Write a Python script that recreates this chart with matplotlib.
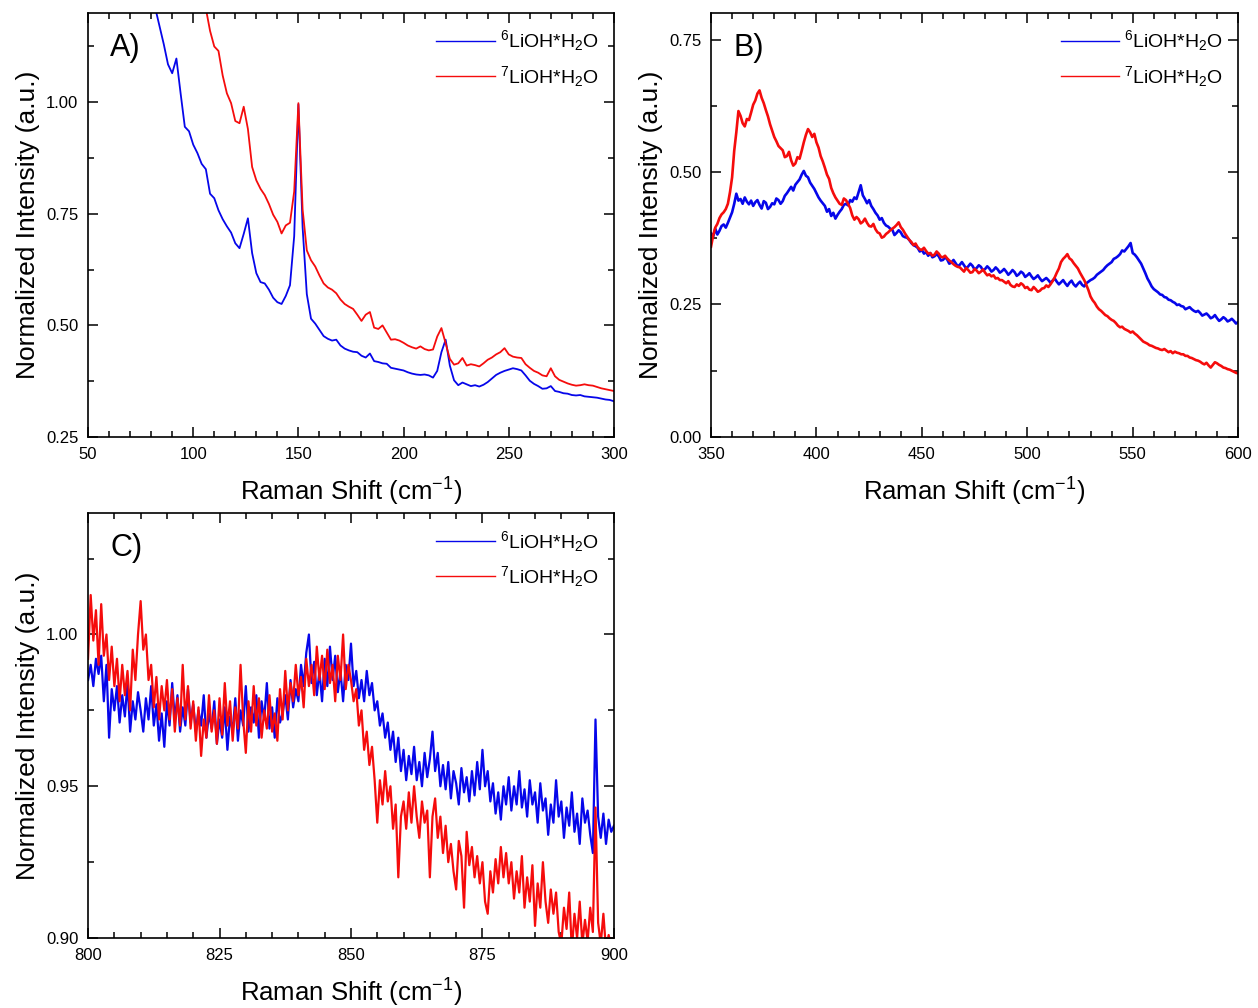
import matplotlib

matplotlib.use("Agg")
import matplotlib.pyplot as plt
import numpy as np
from matplotlib.ticker import MultipleLocator

plt.rcParams["font.family"] = ["Liberation Sans", "DejaVu Sans"]
plt.rcParams["mathtext.fontset"] = "custom"
plt.rcParams["mathtext.rm"] = "Liberation Sans"
plt.rcParams["mathtext.it"] = "Liberation Sans:italic"

BLUE = "#0606ea"
RED = "#f50c0c"
LABEL_6 = r"$^{6}$LiOH*H$_{2}$O"
LABEL_7 = r"$^{7}$LiOH*H$_{2}$O"

# panel A, 80..300 step 2 (blue), 100..300 step 2 (red)
a_x_blue = np.arange(80, 301, 2)
a_blue = [
    1.26, 1.21, 1.17, 1.13, 1.085, 1.065, 1.098, 1.02, 0.945, 0.935,
    0.905, 0.886, 0.862, 0.85, 0.795, 0.785, 0.758, 0.738, 0.722, 0.708,
    0.684, 0.673, 0.705, 0.740, 0.662, 0.617, 0.597, 0.594, 0.580, 0.562,
    0.552, 0.548, 0.566, 0.590, 0.700, 0.995, 0.720, 0.570, 0.515, 0.504,
    0.490, 0.476, 0.470, 0.466, 0.468, 0.455, 0.448, 0.444, 0.441, 0.440,
    0.432, 0.428, 0.437, 0.420, 0.418, 0.415, 0.414, 0.405, 0.403, 0.401,
    0.399, 0.395, 0.392, 0.390, 0.389, 0.390, 0.388, 0.383, 0.398, 0.440,
    0.468, 0.410, 0.377, 0.366, 0.372, 0.368, 0.364, 0.366, 0.363, 0.367,
    0.373, 0.381, 0.389, 0.394, 0.398, 0.401, 0.404, 0.402, 0.399, 0.388,
    0.376, 0.369, 0.364, 0.358, 0.359, 0.364, 0.353, 0.351, 0.348, 0.347,
    0.344, 0.343, 0.344, 0.341, 0.340, 0.339, 0.338, 0.336, 0.334, 0.333,
    0.330,
]
a_x_red = np.arange(100, 301, 2)
a_red = [
    1.32, 1.29, 1.25, 1.21, 1.16, 1.125, 1.115, 1.06, 1.02, 0.998,
    0.958, 0.953, 0.990, 0.940, 0.855, 0.825, 0.806, 0.792, 0.772, 0.748,
    0.732, 0.706, 0.724, 0.730, 0.800, 0.998, 0.760, 0.668, 0.646, 0.632,
    0.612, 0.594, 0.585, 0.580, 0.572, 0.558, 0.548, 0.542, 0.537, 0.524,
    0.510, 0.524, 0.530, 0.495, 0.492, 0.500, 0.484, 0.468, 0.469, 0.466,
    0.461, 0.455, 0.451, 0.448, 0.453, 0.447, 0.444, 0.446, 0.475, 0.494,
    0.460, 0.425, 0.412, 0.415, 0.427, 0.410, 0.413, 0.411, 0.408, 0.415,
    0.423, 0.428, 0.435, 0.440, 0.449, 0.435, 0.430, 0.428, 0.427, 0.413,
    0.405, 0.398, 0.394, 0.388, 0.386, 0.404, 0.386, 0.378, 0.374, 0.370,
    0.367, 0.365, 0.366, 0.368, 0.366, 0.365, 0.362, 0.359, 0.357, 0.355,
    0.353,
]

# panel B, 350..600 step 1
b_x = np.arange(350, 601, 1)
b_blue = [
    .384, .378, .393, .382, .389, .398, .401, .395, .404, .414,
    .424, .440, .459, .446, .449, .440, .452, .444, .439, .446,
    .436, .443, .447, .438, .431, .445, .442, .430, .434, .441,
    .439, .450, .447, .440, .445, .455, .460, .466, .472, .465,
    .476, .481, .486, .495, .502, .493, .490, .480, .474, .468,
    .460, .452, .446, .441, .436, .425, .430, .417, .423, .412,
    .419, .425, .430, .438, .440, .437, .447, .444, .452, .449,
    .462, .475, .456, .449, .441, .447, .436, .430, .423, .418,
    .410, .413, .404, .399, .397, .393, .391, .381, .385, .390,
    .386, .379, .377, .376, .372, .366, .362, .360, .357, .350,
    .353, .346, .349, .342, .347, .339, .341, .345, .341, .333,
    .334, .339, .335, .327, .329, .334, .328, .322, .325, .330,
    .324, .318, .322, .327, .323, .316, .319, .324, .321, .314,
    .317, .322, .318, .312, .315, .320, .316, .310, .313, .317,
    .312, .306, .310, .315, .311, .304, .307, .312, .309, .302,
    .305, .309, .303, .298, .301, .305, .299, .294, .297, .300,
    .296, .291, .295, .299, .293, .288, .292, .296, .290, .285,
    .291, .295, .288, .284, .289, .293, .287, .284, .290, .293,
    .296, .298, .301, .306, .309, .312, .315, .320, .324, .327,
    .330, .336, .338, .341, .345, .352, .350, .355, .360, .366,
    .347, .344, .339, .333, .327, .318, .309, .299, .292, .284,
    .279, .276, .273, .269, .268, .264, .263, .259, .258, .255,
    .253, .249, .250, .247, .246, .241, .243, .245, .241, .238,
    .236, .238, .234, .229, .231, .233, .229, .224, .226, .230,
    .224, .219, .222, .226, .223, .218, .220, .223, .219, .214,
    .217,
]
b_red = [
    .359, .380, .395, .402, .413, .420, .424, .430, .440, .462,
    .490, .540, .575, .615, .606, .592, .586, .600, .598, .612,
    .627, .635, .648, .654, .640, .630, .617, .605, .590, .578,
    .566, .558, .549, .545, .541, .528, .530, .538, .522, .512,
    .516, .528, .525, .540, .556, .570, .581, .575, .566, .572,
    .556, .546, .530, .520, .508, .495, .487, .470, .460, .452,
    .446, .440, .438, .450, .447, .440, .432, .418, .410, .415,
    .411, .403, .406, .412, .404, .398, .397, .402, .392, .386,
    .384, .376, .378, .383, .386, .390, .393, .396, .400, .405,
    .396, .391, .384, .378, .372, .368, .362, .365, .358, .354,
    .353, .357, .351, .346, .347, .342, .344, .350, .346, .340,
    .339, .342, .337, .333, .330, .326, .323, .321, .320, .316,
    .312, .319, .315, .310, .311, .317, .314, .309, .312, .316,
    .310, .305, .307, .303, .305, .299, .300, .296, .296, .293,
    .290, .294, .287, .284, .283, .288, .285, .290, .287, .281,
    .283, .278, .277, .283, .279, .274, .276, .280, .281, .286,
    .283, .288, .294, .301, .310, .318, .330, .336, .340, .345,
    .337, .334, .328, .323, .318, .310, .303, .296, .287, .277,
    .265, .258, .253, .246, .241, .238, .234, .230, .228, .224,
    .221, .219, .215, .210, .207, .208, .204, .202, .200, .197,
    .199, .195, .192, .188, .184, .180, .178, .176, .173, .172,
    .170, .168, .167, .165, .164, .166, .163, .160, .162, .158,
    .161, .159, .158, .156, .156, .153, .153, .150, .149, .147,
    .145, .144, .142, .139, .137, .140, .135, .131, .136, .141,
    .139, .136, .134, .131, .130, .128, .127, .125, .123, .121,
    .120,
]

# panel C, 800..900 step 0.5
c_x = np.arange(800, 900.01, 0.5)
c_blue = [
    0.985, 0.990, 0.983, 0.992, 0.987, 0.993, 0.978, 0.990, 0.966, 0.982,
    0.975, 0.983, 0.971, 0.980, 0.973, 0.984, 0.968, 0.978, 0.972, 0.981,
    0.975, 0.968, 0.979, 0.972, 0.983, 0.970, 0.977, 0.965, 0.974, 0.963,
    0.978, 0.970, 0.984, 0.972, 0.980, 0.968, 0.976, 0.970, 0.982, 0.971,
    0.977, 0.968, 0.975, 0.970, 0.980, 0.966, 0.974, 0.969, 0.978, 0.964,
    0.972, 0.966, 0.976, 0.962, 0.973, 0.968, 0.979, 0.965, 0.975, 0.970,
    0.983, 0.968, 0.976, 0.971, 0.980, 0.966, 0.978, 0.972, 0.984, 0.969,
    0.976, 0.966, 0.979, 0.971, 0.974, 0.980, 0.972, 0.985, 0.976, 0.982,
    0.978, 0.990, 0.983, 0.994, 1.000, 0.984, 0.991, 0.980, 0.988, 0.978,
    0.992, 0.983, 0.996, 0.985, 0.993, 0.981, 0.988, 0.978, 0.990, 0.985,
    0.997, 0.983, 0.988, 0.979, 0.985, 0.978, 0.988, 0.980, 0.984, 0.975,
    0.978, 0.970, 0.974, 0.966, 0.971, 0.962, 0.968, 0.958, 0.966, 0.955,
    0.962, 0.952, 0.960, 0.954, 0.963, 0.952, 0.958, 0.950, 0.961, 0.953,
    0.959, 0.968, 0.955, 0.961, 0.950, 0.957, 0.949, 0.958, 0.946, 0.955,
    0.951, 0.944, 0.956, 0.948, 0.953, 0.945, 0.955, 0.947, 0.958, 0.949,
    0.962, 0.950, 0.955, 0.945, 0.951, 0.941, 0.948, 0.939, 0.950, 0.944,
    0.953, 0.942, 0.950, 0.944, 0.955, 0.943, 0.949, 0.940, 0.952, 0.944,
    0.948, 0.938, 0.951, 0.942, 0.946, 0.934, 0.944, 0.938, 0.952, 0.940,
    0.945, 0.933, 0.943, 0.937, 0.948, 0.935, 0.941, 0.931, 0.946, 0.938,
    0.942, 0.934, 0.928, 0.972, 0.940, 0.933, 0.941, 0.931, 0.939, 0.935,
    0.937,
]
c_red = [
    0.992, 1.013, 0.998, 1.008, 0.990, 1.010, 0.993, 1.000, 0.985, 0.996,
    0.983, 0.992, 0.978, 0.990, 0.980, 0.988, 0.975, 0.995, 0.985, 1.000,
    1.011, 0.995, 1.000, 0.985, 0.990, 0.976, 0.986, 0.972, 0.983, 0.975,
    0.985, 0.972, 0.982, 0.968, 0.979, 0.970, 0.990, 0.972, 0.983, 0.969,
    0.978, 0.965, 0.976, 0.960, 0.972, 0.966, 0.980, 0.968, 0.975, 0.964,
    0.979, 0.967, 0.984, 0.970, 0.978, 0.965, 0.976, 0.969, 0.990, 0.972,
    0.961, 0.978, 0.968, 0.983, 0.970, 0.979, 0.966, 0.975, 0.969, 0.980,
    0.968, 0.974, 0.965, 0.982, 0.972, 0.988, 0.975, 0.984, 0.978, 0.990,
    0.980, 0.986, 0.976, 0.992, 0.983, 0.990, 0.980, 0.996, 0.985, 0.993,
    0.982, 0.995, 0.984, 0.990, 0.978, 0.993, 0.985, 1.000, 0.982, 0.990,
    0.985, 0.978, 0.982, 0.970, 0.975, 0.962, 0.968, 0.957, 0.963, 0.952,
    0.938, 0.952, 0.944, 0.955, 0.945, 0.950, 0.936, 0.944, 0.920, 0.940,
    0.945, 0.936, 0.948, 0.938, 0.950, 0.940, 0.933, 0.945, 0.938, 0.942,
    0.920, 0.940, 0.946, 0.933, 0.940, 0.928, 0.937, 0.925, 0.931, 0.922,
    0.916, 0.932, 0.927, 0.910, 0.935, 0.924, 0.930, 0.920, 0.927, 0.918,
    0.925, 0.912, 0.908, 0.922, 0.915, 0.926, 0.918, 0.930, 0.920, 0.928,
    0.918, 0.925, 0.913, 0.922, 0.915, 0.927, 0.910, 0.920, 0.912, 0.924,
    0.904, 0.918, 0.910, 0.925, 0.912, 0.905, 0.916, 0.908, 0.915, 0.902,
    0.898, 0.910, 0.903, 0.915, 0.896, 0.908, 0.900, 0.912, 0.898, 0.906,
    0.899, 0.910, 0.902, 0.943, 0.905, 0.898, 0.908, 0.896, 0.901, 0.897,
    0.900,
]


def style_axes(ax, xlim, ylim, xmaj, xmin, ymaj, ymin, tag):
    ax.set_xlim(*xlim)
    ax.set_ylim(*ylim)
    ax.xaxis.set_major_locator(MultipleLocator(xmaj))
    ax.xaxis.set_minor_locator(MultipleLocator(xmin))
    ax.yaxis.set_major_locator(MultipleLocator(ymaj))
    ax.yaxis.set_minor_locator(MultipleLocator(ymin))
    ax.yaxis.set_major_formatter(plt.FormatStrFormatter("%.2f"))
    ax.tick_params(which="both", direction="in", top=True, right=True, width=1.1)
    ax.tick_params(which="major", length=7, labelsize=12, pad=7)
    ax.tick_params(which="minor", length=4)
    for s in ax.spines.values():
        s.set_linewidth(1.2)
    ax.set_xlabel(r"Raman Shift (cm$^{-1}$)", fontsize=18.5, labelpad=10)
    ax.set_ylabel("Normalized Intensity (a.u.)", fontsize=19, labelpad=4)
    ax.text(0.042, 0.917, tag, transform=ax.transAxes, fontsize=22, va="center")
    leg = ax.legend(
        loc="upper right", frameon=False, fontsize=14, handlelength=3.0,
        handletextpad=0.25, labelspacing=0.55, borderaxespad=0.4,
    )
    for ln in leg.get_lines():
        ln.set_linewidth(1.0)


fig = plt.figure(figsize=(12.58, 10.08), dpi=100)
ax_a = fig.add_axes([0.070, 0.5665, 0.418, 0.4206])
ax_b = fig.add_axes([0.5652, 0.5665, 0.419, 0.4206])
ax_c = fig.add_axes([0.070, 0.0694, 0.418, 0.4216])

ax_a.plot(a_x_blue, a_blue, color=BLUE, lw=1.3, label=LABEL_6)
ax_a.plot(a_x_red, a_red, color=RED, lw=1.3, label=LABEL_7)
style_axes(ax_a, (50, 300), (0.25, 1.2), 50, 10, 0.25, 0.125, "A)")

ax_b.plot(b_x, b_blue, color=BLUE, lw=1.9, label=LABEL_6)
ax_b.plot(b_x, b_red, color=RED, lw=1.9, label=LABEL_7)
style_axes(ax_b, (350, 600), (0.0, 0.8), 50, 10, 0.25, 0.125, "B)")

ax_c.plot(c_x, c_blue, color=BLUE, lw=1.6, label=LABEL_6)
ax_c.plot(c_x, c_red, color=RED, lw=1.6, label=LABEL_7)
style_axes(ax_c, (800, 900), (0.90, 1.04), 25, 5, 0.05, 0.025, "C)")

fig.savefig("out.png", dpi=100)
